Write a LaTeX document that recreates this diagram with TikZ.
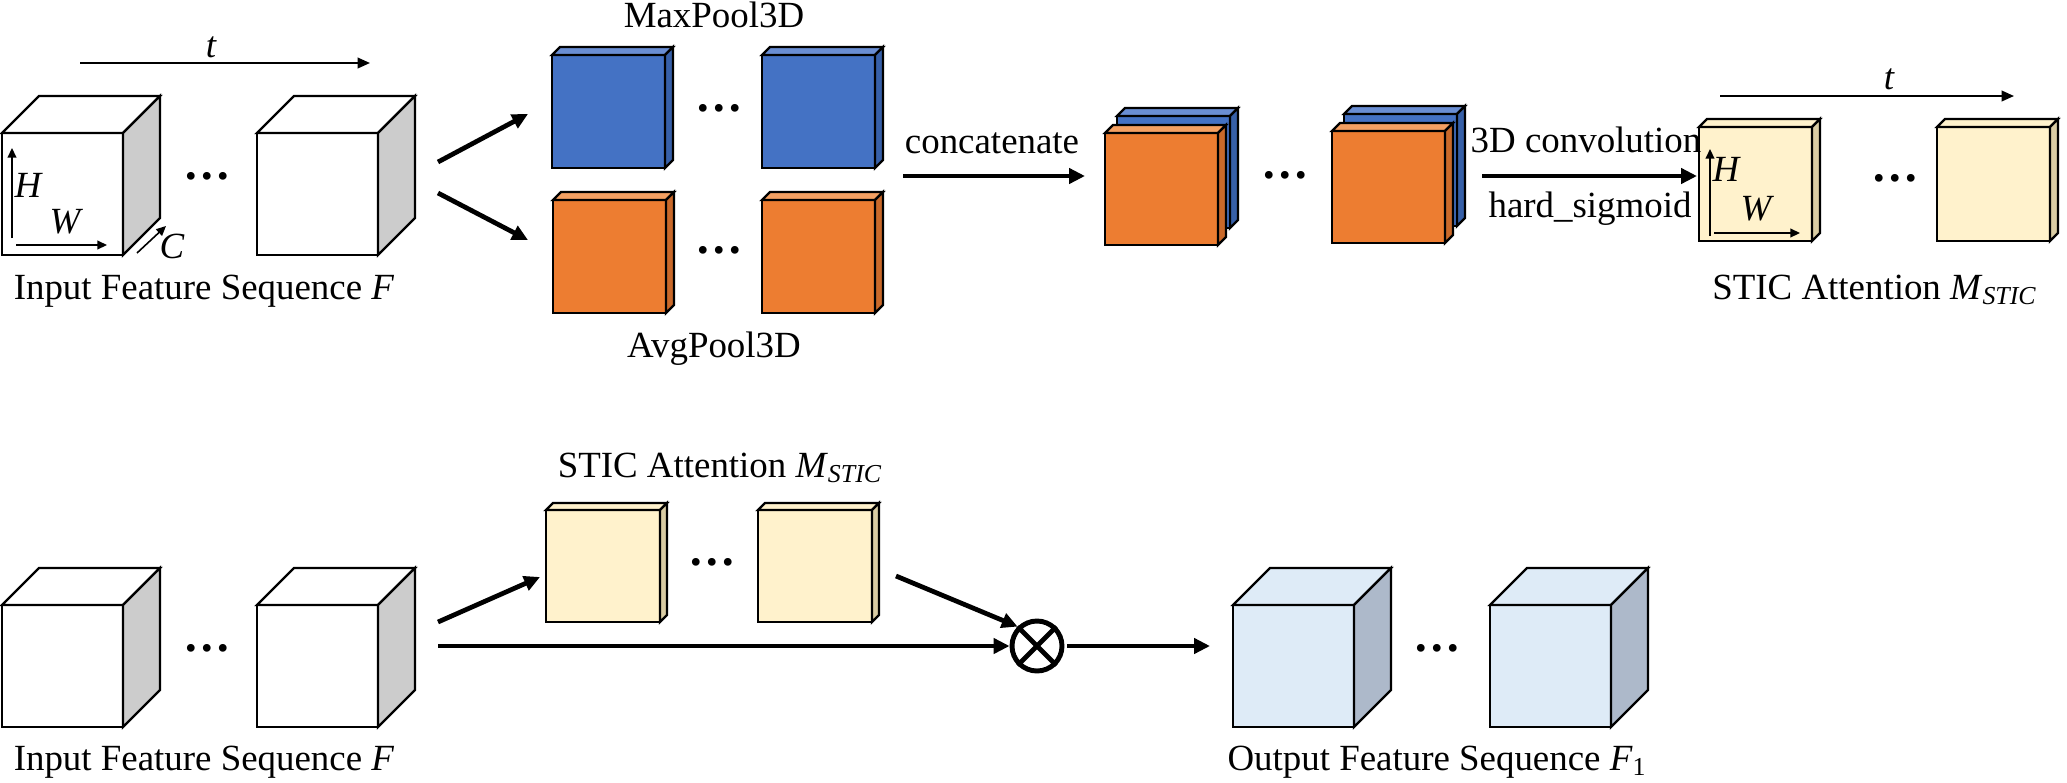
\documentclass[tikz,border=0pt]{standalone}
\usepackage{fontspec}
\setmainfont{Liberation Serif}
\usetikzlibrary{arrows.meta}
\definecolor{bfront}{HTML}{4472C4}
\definecolor{btop}{HTML}{6A8ED3}
\definecolor{bside}{HTML}{3760A8}
\definecolor{ofront}{HTML}{ED7D31}
\definecolor{otop}{HTML}{F4A062}
\definecolor{oside}{HTML}{C9692A}
\definecolor{yfront}{HTML}{FFF2CC}
\definecolor{ytop}{HTML}{FFF2CC}
\definecolor{yside}{HTML}{D9CCA3}
\definecolor{gside}{HTML}{CCCCCC}
\definecolor{lfront}{HTML}{DEEBF7}
\definecolor{lside}{HTML}{ADB9CA}
\tikzset{
  cubeline/.style={draw=black, line width=1.3pt, line join=miter},
  lbl/.style={font=\fontsize{21}{25}\selectfont, inner sep=0pt, anchor=base},
  ilbl/.style={font=\fontsize{21}{25}\selectfont\itshape, inner sep=0pt, anchor=base},
  dotsnode/.style={font=\fontsize{27}{30}\selectfont\bfseries, inner sep=0pt},
  bigarrow/.style={line width=2.7pt, -{Triangle[length=9pt,width=8.5pt]}},
  thinarrow/.style={line width=1.1pt, -{Triangle[length=7pt,width=6pt]}},
  tinyarrow/.style={line width=0.9pt, -{Triangle[length=5.5pt,width=5pt]}},
}
% name, x, y, w, h, d, front, top, side
\newcommand{\drawcube}[9]{%
  \filldraw[cubeline, fill=#7] (#2,#3) rectangle (#2+#4,#3+#5);
  \filldraw[cubeline, fill=#8] (#2,#3) -- (#2+#6,#3-#6) -- (#2+#4+#6,#3-#6) -- (#2+#4,#3) -- cycle;
  \filldraw[cubeline, fill=#9] (#2+#4,#3) -- (#2+#4+#6,#3-#6) -- (#2+#4+#6,#3+#5-#6) -- (#2+#4,#3+#5) -- cycle;
  \coordinate (#1) at (#2+#4/2,#3+#5/2);
}
\begin{document}
\begin{tikzpicture}[x=0.02cm,y=-0.02cm]
\useasboundingbox (0,0) rectangle (2067,782);

% ---------------- top row ----------------
% input cubes
\drawcube{in1}{2}{133}{121}{122}{37}{white}{white}{gside}
\drawcube{in2}{257}{133}{121}{122}{37}{white}{white}{gside}
\node[dotsnode] (d1) at (207,176) {…};
\coordinate (ta) at (80,63); \coordinate (tb) at (370,63);
\draw[thinarrow] (ta) -- (tb);
\node[ilbl] (tl1) at (211,57) {t};
\coordinate (ha) at (12,238); \coordinate (hb) at (12,148);
\draw[tinyarrow] (ha) -- (hb);
\node[ilbl] (hl1) at (28,197) {H};
\coordinate (wa) at (16,245); \coordinate (wb) at (107,245);
\draw[tinyarrow] (wa) -- (wb);
\node[ilbl] (wl1) at (65,233) {W};
\coordinate (ca) at (137,253); \coordinate (cb) at (166,226);
\draw[tinyarrow] (ca) -- (cb);
\node[ilbl] (cl1) at (172,258) {C};
\node[lbl] (inlab1) at (204,299) {Input Feature Sequence \textit{F}};

% pooling arrows
\coordinate (pa1) at (438,162); \coordinate (pb1) at (528,114);
\coordinate (pa2) at (438,193); \coordinate (pb2) at (528,240);
\draw[bigarrow] (pa1) -- (pb1);
\draw[bigarrow] (pa2) -- (pb2);

% pooled cubes
\drawcube{mx1}{552}{55}{113}{113}{8}{bfront}{btop}{bside}
\drawcube{mx2}{762}{55}{113}{113}{8}{bfront}{btop}{bside}
\drawcube{av1}{553}{200}{113}{113}{8}{ofront}{otop}{oside}
\drawcube{av2}{762}{200}{113}{113}{8}{ofront}{otop}{oside}
\node[dotsnode] (d2) at (719,108) {…};
\node[dotsnode] (d3) at (719,250) {…};
\node[lbl] (mxlab) at (714,27) {MaxPool3D};
\node[lbl] (avlab) at (714,357) {AvgPool3D};

% concatenate
\coordinate (ka) at (903,176); \coordinate (kb) at (1085,176);
\draw[bigarrow] (ka) -- (kb);
\node[lbl] (catlab) at (992,153) {concatenate};

% concatenated cubes
\drawcube{cb1}{1117}{116}{113}{112}{8}{bfront}{btop}{bside}
\drawcube{co1}{1105}{133}{113}{112}{8}{ofront}{otop}{oside}
\drawcube{cb2}{1344}{114}{113}{112}{8}{bfront}{btop}{bside}
\drawcube{co2}{1332}{131}{113}{112}{8}{ofront}{otop}{oside}
\node[dotsnode] (d4) at (1285,175) {…};

% attention cubes (top)
\drawcube{at1}{1699}{127}{113}{114}{8}{yfront}{ytop}{yside}
\drawcube{at2}{1937}{127}{113}{114}{8}{yfront}{ytop}{yside}
\node[dotsnode] (d5) at (1895,178) {…};

% 3D convolution
\coordinate (ma) at (1482,176); \coordinate (mb) at (1697,176);
\draw[bigarrow] (ma) -- (mb);
\node[lbl] (convlab) at (1586,152) {3D convolution};
\node[lbl] (hslab) at (1590,217) {hard\_sigmoid};

\coordinate (tc) at (1720,96); \coordinate (td) at (2014,96);
\draw[thinarrow] (tc) -- (td);
\node[ilbl] (tl2) at (1889,89) {t};
\coordinate (hc) at (1710,236); \coordinate (hd) at (1710,149);
\draw[tinyarrow] (hc) -- (hd);
\node[ilbl] (hl2) at (1726,181) {H};
\coordinate (wc) at (1714,233); \coordinate (wd) at (1800,233);
\draw[tinyarrow] (wc) -- (wd);
\node[ilbl] (wl2) at (1756,220) {W};
\node[lbl, anchor=base west] (attlab1) at (1712,299) {STIC Attention \textit{M}\textsubscript{\textit{STIC}}};

% ---------------- bottom row ----------------
\drawcube{bi1}{2}{605}{121}{122}{37}{white}{white}{gside}
\drawcube{bi2}{257}{605}{121}{122}{37}{white}{white}{gside}
\node[dotsnode] (d6) at (207,648) {…};
\node[lbl] (inlab2) at (204,770) {Input Feature Sequence \textit{F}};

\drawcube{ab1}{546}{510}{114}{112}{7}{yfront}{ytop}{yside}
\drawcube{ab2}{758}{510}{114}{112}{7}{yfront}{ytop}{yside}
\node[dotsnode] (d7) at (712,562) {…};
\node[lbl] (attlab2) at (720,477) {STIC Attention \textit{M}\textsubscript{\textit{STIC}}};

\node[circle, draw, line width=2.8pt, minimum size=1cm, inner sep=0pt] (ot) at (1037,646) {};
\draw[line width=2.8pt] (ot.north west) -- (ot.south east);
\draw[line width=2.8pt] (ot.north east) -- (ot.south west);

\coordinate (ba1) at (438,622); \coordinate (bb1) at (540,577);
\draw[bigarrow] (ba1) -- (bb1);
\coordinate (ba2) at (438,646);
\draw[bigarrow] (ba2) -- (ot.west);
\coordinate (ba3) at (896,576);
\draw[bigarrow] (ba3) -- (ot.north west);
\coordinate (bb4) at (1210,646);
\draw[bigarrow] ([xshift=0.6cm]ot.center) -- (bb4);

\drawcube{ou1}{1233}{605}{121}{122}{37}{lfront}{lfront}{lside}
\drawcube{ou2}{1490}{605}{121}{122}{37}{lfront}{lfront}{lside}
\node[dotsnode] (d8) at (1437,648) {…};
\node[lbl] (outlab) at (1437,770) {Output Feature Sequence \textit{F}\textsubscript{1}};
\end{tikzpicture}
\end{document}
